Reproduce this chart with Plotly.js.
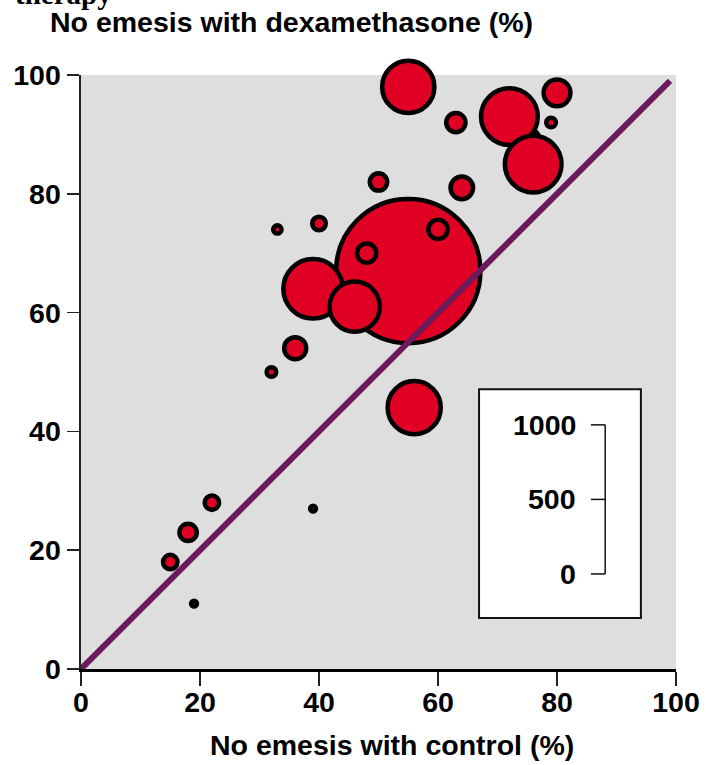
<!DOCTYPE html>
<html>
<head>
<meta charset="utf-8">
<script src="https://cdn.plot.ly/plotly-3.0.1.min.js"></script>
<style>html,body{margin:0;padding:0;background:#fff;}#chart{width:713px;height:765px;}</style>
</head>
<body>
<div id="chart"></div>
<script>
// Trials: no emesis with control (%), with dexamethasone (%), number of patients
const controlPct = [55, 75, 72, 76, 55, 63, 80, 79, 64, 50, 40, 33, 60, 48, 39, 46, 36, 32, 56, 22, 18, 15, 39, 19];
const dexaPct    = [67, 89, 93, 85, 98, 92, 97, 92, 81, 82, 75, 74, 74, 70, 64, 61, 54, 50, 44, 28, 23, 18, 27, 11];
const patients   = [900, 26, 139, 139, 118, 16, 31, 4, 22, 13, 8, 3, 16, 16, 153, 109, 21, 4, 122, 9, 13, 9, 1.5, 1.5];
const xTicks = [0, 20, 40, 60, 80, 100];
const yTicks = [0, 20, 40, 60, 80, 100];
const equalityLine = [0, 99];
const legendScale = [0, 500, 1000];

const FONT = "Liberation Sans, Arial, sans-serif";
const FS = 28.5;

const bubbles = {
  type: 'scatter', mode: 'markers',
  x: controlPct, y: dexaPct,
  cliponaxis: false,
  marker: {
    size: patients, sizemode: 'area', sizeref: 0.0865, sizemin: 0,
    color: '#e00024', opacity: 1,
    line: {color: '#000000', width: 4.5}
  },
  hoverinfo: 'x+y+text', text: patients.map(n => 'n=' + n),
  showlegend: false
};
const diag = {
  type: 'scatter', mode: 'lines',
  x: equalityLine, y: equalityLine,
  cliponaxis: false,
  line: {color: '#6b1a5b', width: 6},
  hoverinfo: 'skip', showlegend: false
};

// legend (size scale) box geometry in paper coordinates
const bx0 = 0.669, bx1 = 0.941, by0 = 0.086, by1 = 0.471;
const barX = 0.881, tickX0 = 0.857, labX = 0.836;
const sy0 = 0.160, sy1 = 0.411;
const scaleY = v => sy0 + (sy1 - sy0) * v / 1000;

const shapes = [
  {type: 'rect', xref: 'paper', yref: 'paper', x0: bx0, x1: bx1, y0: by0, y1: by1,
   fillcolor: '#ffffff', line: {color: '#111', width: 2}, layer: 'above'},
  {type: 'line', xref: 'paper', yref: 'paper', x0: barX, x1: barX, y0: scaleY(0), y1: scaleY(1000),
   line: {color: '#111', width: 1.5}, layer: 'above'}
];
const annotations = [
  {xref: 'paper', yref: 'paper', x: -0.115, y: 1.106, xanchor: 'left', yanchor: 'bottom',
   text: 'therapy', showarrow: false,
   font: {family: 'Liberation Serif, Times New Roman, serif', size: 29, color: '#000', weight: 'bold'}},
  {xref: 'paper', yref: 'paper', x: 0.523, y: -0.128, xanchor: 'center', yanchor: 'middle',
   text: 'No emesis with control (%)', showarrow: false,
   font: {family: FONT, size: FS, color: '#000', weight: 'bold'}}
];
legendScale.forEach(v => {
  shapes.push({type: 'line', xref: 'paper', yref: 'paper', x0: tickX0, x1: barX, y0: scaleY(v), y1: scaleY(v),
    line: {color: '#111', width: 1.5}, layer: 'above'});
  annotations.push({xref: 'paper', yref: 'paper', x: labX, y: scaleY(v), xanchor: 'right', yanchor: 'middle',
    text: String(v), showarrow: false, font: {family: FONT, size: FS, color: '#000', weight: 'bold'}});
});

const layout = {
  width: 713, height: 765,
  margin: {l: 81, r: 37, t: 75, b: 96},
  paper_bgcolor: '#ffffff', plot_bgcolor: '#dedede',
  font: {family: FONT, color: '#000'},
  title: {
    text: 'No emesis with dexamethasone (%)',
    xref: 'container', yref: 'container', x: 50/713, xanchor: 'left', y: 1 - 22/765, yanchor: 'middle',
    font: {family: FONT, size: FS, color: '#000', weight: 'bold'}
  },
  xaxis: {
    range: [0, 100], tickvals: xTicks, ticktext: xTicks.map(String),
    showgrid: false, zeroline: false,
    showline: true, linecolor: '#000', linewidth: 3,
    ticks: 'outside', ticklen: 14, tickwidth: 1.5, tickcolor: '#222',
    ticklabelstandoff: -8,
    tickfont: {family: FONT, size: FS, color: '#000', weight: 'bold'},
    fixedrange: true
  },
  yaxis: {
    range: [0, 100], tickvals: yTicks, ticktext: yTicks.map(String),
    showgrid: false, zeroline: false,
    showline: true, linecolor: '#222', linewidth: 2.5,
    ticks: 'outside', ticklen: 12, tickwidth: 1.5, tickcolor: '#222',
    tickfont: {family: FONT, size: FS, color: '#000', weight: 'bold'},
    fixedrange: true
  },
  shapes: shapes,
  annotations: annotations,
  showlegend: false
};

Plotly.newPlot('chart', [bubbles, diag], layout, {displayModeBar: false, staticPlot: true});
</script>
</body>
</html>
